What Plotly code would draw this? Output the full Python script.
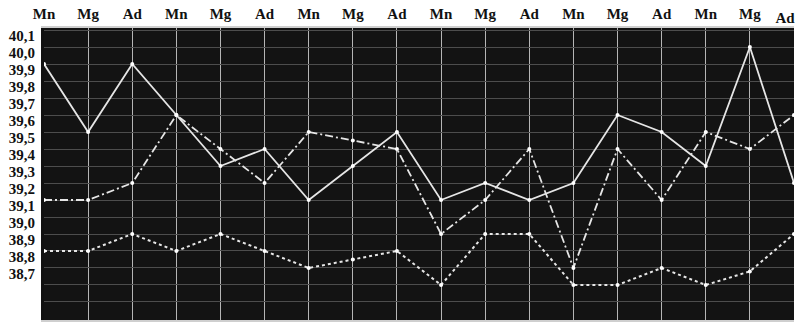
import plotly.graph_objects as go

categories = ["Mn", "Mg", "Ad"] * 6
x_idx = list(range(len(categories)))

solid_vals = [39.9, 39.5, 39.9, 39.6, 39.3, 39.4, 39.1, 39.3, 39.5,
              39.1, 39.2, 39.1, 39.2, 39.6, 39.5, 39.3, 40.0, 39.2]
dashed_vals = [39.1, 39.1, 39.2, 39.6, 39.4, 39.2, 39.5, 39.45, 39.4,
               38.9, 39.1, 39.4, 38.7, 39.4, 39.1, 39.5, 39.4, 39.6]
dotted_vals = [38.8, 38.8, 38.9, 38.8, 38.9, 38.8, 38.7, 38.75, 38.8,
               38.6, 38.9, 38.9, 38.6, 38.6, 38.7, 38.6, 38.68, 38.9]

y_ticks = [40.1, 40.0, 39.9, 39.8, 39.7, 39.6, 39.5, 39.4, 39.3, 39.2,
           39.1, 39.0, 38.9, 38.8, 38.7]
y_tick_text = ["40,1", "40,0", "39,9", "39,8", "39,7", "39,6", "39,5", "39,4",
               "39,3", "39,2", "39,1", "39,0", "38,9", "38,8", "38,7"]
grid_vals = [40.1, 40.0, 39.9, 39.8, 39.7, 39.6, 39.5, 39.4, 39.3, 39.2,
             39.1, 39.0, 38.9, 38.8, 38.7, 38.6, 38.5]
y_range = [38.394, 40.112]
x_range = [0, len(categories) - 1]

line_col = "#e6e6e6"
tick_font = dict(family="Liberation Serif", size=15, color="#111", weight="bold")

fig = go.Figure()
# invisible trace to activate the helper axes (grid lines / last label)
fig.add_trace(go.Scatter(x=[x_idx[0]], y=[grid_vals[0]], xaxis="x2", yaxis="y2",
                         mode="markers", marker=dict(opacity=0),
                         showlegend=False, hoverinfo="skip"))
fig.add_trace(go.Scatter(x=x_idx, y=dotted_vals, mode="lines+markers",
                         line=dict(color=line_col, width=2, dash="dot"),
                         marker=dict(color="#ffffff", size=4), showlegend=False))
fig.add_trace(go.Scatter(x=x_idx, y=dashed_vals, mode="lines+markers",
                         line=dict(color=line_col, width=1.8, dash="8px,3px,2px,3px"),
                         marker=dict(color="#ffffff", size=4), showlegend=False))
fig.add_trace(go.Scatter(x=x_idx, y=solid_vals, mode="lines+markers",
                         line=dict(color=line_col, width=1.8),
                         marker=dict(color="#ffffff", size=4), showlegend=False))

fig.update_layout(
    width=802, height=323,
    margin=dict(l=44, r=8, t=28, b=3),
    paper_bgcolor="white",
    plot_bgcolor="#131313",
    xaxis=dict(
        side="top", range=x_range, tickmode="array", tickvals=x_idx[:-1],
        ticktext=categories[:-1], showgrid=True, gridcolor="#b5b5b5", gridwidth=1.3,
        zeroline=False, showline=True, linecolor="#cfcfcf", linewidth=2, mirror=True,
        ticks="", automargin=False, ticklabelstandoff=1, tickfont=tick_font,
    ),
    xaxis2=dict(
        side="top", overlaying="x", range=x_range, tickmode="array",
        tickvals=x_idx[-1:], ticktext=categories[-1:], showgrid=False,
        zeroline=False, showline=False, ticks="", automargin=False,
        ticklabelshift=-9, ticklabelstandoff=1, tickfont=tick_font,
    ),
    yaxis=dict(
        range=y_range, tickmode="array", tickvals=y_ticks,
        ticktext=y_tick_text, showgrid=False, zeroline=False,
        showline=True, linecolor="#111", linewidth=3, mirror=False,
        ticks="", ticklabelshift=6, ticklabelstandoff=3, automargin=False,
        tickfont=tick_font,
    ),
    yaxis2=dict(
        range=y_range, overlaying="y", tickmode="array", tickvals=grid_vals,
        showticklabels=False, showgrid=True, gridcolor="#4d4d4d", gridwidth=1,
        zeroline=False, ticks="", automargin=False,
    ),
)
fig.write_html("out.html", config={"displayModeBar": False},
               post_script="document.body.style.margin='0';")
